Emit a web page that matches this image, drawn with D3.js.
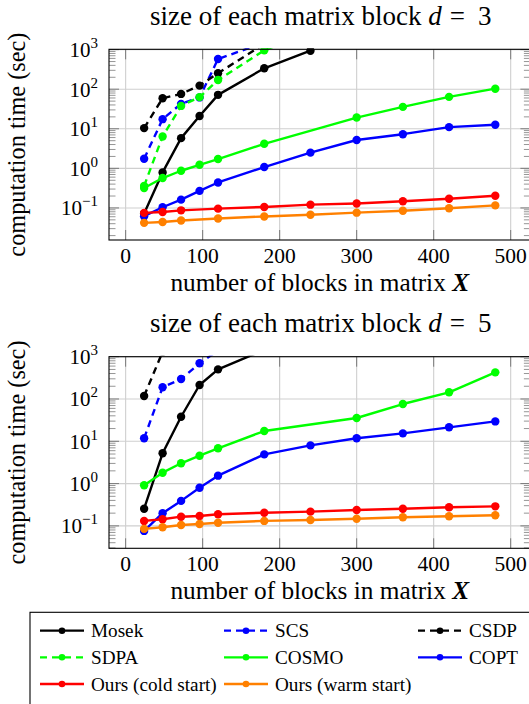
<!DOCTYPE html>
<html><head><meta charset="utf-8">
<script src="https://cdn.jsdelivr.net/npm/d3@7/dist/d3.min.js"></script>
<style>body{margin:0;background:#fff;}</style>
</head><body>
<svg id="c" width="529" height="704"></svg>
<script>
// ---------------- data ----------------
const seriesNames = ["Mosek","SCS","CSDP","SDPA","COSMO","COPT","Ours (cold start)","Ours (warm start)"];
const xTicks = [0,100,200,300,400,500];
const yTickExp = [-1,0,1,2,3];

// d = 3
const mosekX3 = [24,48,72,96,120,180,240];
const mosekY3 = [0.072,0.79,5.8,21,72,337,940];
const scsX3   = [24,48,72,96,120,180];
const scsY3   = [1.75,17.5,42.6,62,580,1500];
const csdpX3  = [24,48,72,96,120,180];
const csdpY3  = [10.4,59,76,123,253,1400];
const sdpaX3  = [24,48,72,96,120,180,240];
const sdpaY3  = [0.36,6.4,37.8,63,171,960,2800];
const cosmoX3 = [24,48,72,96,120,180,300,360,420,480];
const cosmoY3 = [0.32,0.57,0.87,1.23,1.72,4.17,19.2,35.7,64,103];
const coptX3  = [24,48,72,96,120,180,240,300,360,420,480];
const coptY3  = [0.062,0.104,0.162,0.27,0.44,1.08,2.5,5.2,7.3,11,12.6];
const coldX3  = [24,48,72,120,180,240,300,360,420,480];
const coldY3  = [0.075,0.079,0.087,0.096,0.106,0.121,0.13,0.147,0.171,0.204];
const warmX3  = [24,48,72,120,180,240,300,360,420,480];
const warmY3  = [0.042,0.044,0.048,0.054,0.061,0.067,0.076,0.085,0.098,0.116];

// d = 5
const mosekX5 = [24,48,72,96,120,180];
const mosekY5 = [0.255,5.2,38,214,502,1450];
const scsX5   = [24,48,72,96,120];
const scsY5   = [11.8,189,297,698,1400];
const csdpX5  = [24,48];
const csdpY5  = [118,1300];
const sdpaX5  = [];
const sdpaY5  = [];
const cosmoX5 = [24,48,72,96,120,180,300,360,420,480];
const cosmoY5 = [0.91,1.81,3.02,4.57,6.84,17.5,35.5,76,144,426];
const coptX5  = [24,48,72,96,120,180,240,300,360,420,480];
const coptY5  = [0.076,0.2,0.39,0.8,1.54,4.9,8.0,11.8,15.4,21.4,29.5];
const coldX5  = [24,48,72,96,120,180,240,300,360,420,480];
const coldY5  = [0.131,0.143,0.165,0.171,0.188,0.205,0.217,0.238,0.255,0.275,0.29];
const warmX5  = [24,48,72,96,120,180,240,300,360,420,480];
const warmY5  = [0.085,0.093,0.105,0.111,0.119,0.131,0.138,0.148,0.16,0.169,0.178];

// ---------------- styles ----------------
const colors = ["#000000","#0000ff","#000000","#00ff00","#00ff00","#0000ff","#ff0000","#ff8000"];
const dashed = [false,true,true,true,false,false,false,false];
const FONT = "'Liberation Serif', 'Times New Roman', serif";

const svg = d3.select("#c").style("font-family", FONT);

function zip(xs, ys){ return xs.map((x,i)=>({x:x, y:ys[i]})); }

const panels = [
  {title:"3", top:49.3, bottom:240, yLo:-1.81, yHi:3.008,
   data:[zip(mosekX3,mosekY3),zip(scsX3,scsY3),zip(csdpX3,csdpY3),zip(sdpaX3,sdpaY3),
         zip(cosmoX3,cosmoY3),zip(coptX3,coptY3),zip(coldX3,coldY3),zip(warmX3,warmY3)]},
  {title:"5", top:356.7, bottom:548.3, yLo:-1.53, yHi:3.0,
   data:[zip(mosekX5,mosekY5),zip(scsX5,scsY5),zip(csdpX5,csdpY5),zip(sdpaX5,sdpaY5),
         zip(cosmoX5,cosmoY5),zip(coptX5,coptY5),zip(coldX5,coldY5),zip(warmX5,warmY5)]}
];

const L = 109, R = 530.4;
const x = d3.scaleLinear().domain([-21.6,525.6]).range([L,R]);

panels.forEach((p,pi)=>{
  const g = svg.append("g").style("font-family", FONT);
  const y = d3.scaleLog().domain([Math.pow(10,p.yLo),Math.pow(10,p.yHi)]).range([p.bottom,p.top]);
  const cx = (L+R)/2;

  // grid
  xTicks.forEach(t=>{
    g.append("line").attr("x1",x(t)).attr("x2",x(t)).attr("y1",p.top).attr("y2",p.bottom)
      .attr("stroke","#cfcfcf").attr("stroke-width",1.1);
  });
  yTickExp.forEach(e=>{
    g.append("line").attr("x1",L).attr("x2",R).attr("y1",y(Math.pow(10,e))).attr("y2",y(Math.pow(10,e)))
      .attr("stroke","#cfcfcf").attr("stroke-width",1.1);
  });
  // minor ticks y
  for(let e=-3;e<=3;e++){
    for(let m=2;m<=9;m++){
      const v=m*Math.pow(10,e);
      if(v<Math.pow(10,p.yLo)||v>Math.pow(10,p.yHi)) continue;
      const yy=y(v);
      g.append("line").attr("x1",L).attr("x2",L+6.5).attr("y1",yy).attr("y2",yy).attr("stroke","#8a8a8a").attr("stroke-width",0.9);
      g.append("line").attr("x1",R).attr("x2",R-6.5).attr("y1",yy).attr("y2",yy).attr("stroke","#8a8a8a").attr("stroke-width",0.9);
    }
  }
  // major ticks
  yTickExp.forEach(e=>{
    const yy=y(Math.pow(10,e));
    g.append("line").attr("x1",L).attr("x2",L+10).attr("y1",yy).attr("y2",yy).attr("stroke","#7a7a7a").attr("stroke-width",1);
    g.append("line").attr("x1",R).attr("x2",R-10).attr("y1",yy).attr("y2",yy).attr("stroke","#7a7a7a").attr("stroke-width",1);
  });
  xTicks.forEach(t=>{
    g.append("line").attr("x1",x(t)).attr("x2",x(t)).attr("y1",p.bottom).attr("y2",p.bottom-10).attr("stroke","#7a7a7a").attr("stroke-width",1);
    g.append("line").attr("x1",x(t)).attr("x2",x(t)).attr("y1",p.top).attr("y2",p.top+10).attr("stroke","#7a7a7a").attr("stroke-width",1);
  });

  // clip
  const cid="clip"+pi;
  svg.append("defs").append("clipPath").attr("id",cid).append("rect")
    .attr("x",L).attr("y",p.top-1).attr("width",R-L).attr("height",p.bottom-p.top+1);
  const pg = g.append("g").attr("clip-path","url(#"+cid+")");
  const line = d3.line().x(d=>x(d.x)).y(d=>y(d.y));
  p.data.forEach((ser,si)=>{
    if(!ser.length) return;
    pg.append("path").attr("d",line(ser)).attr("fill","none").attr("stroke",colors[si])
      .attr("stroke-width",2.4).attr("stroke-dasharray",dashed[si]?"7,5":null).attr("stroke-linejoin","round");
    pg.selectAll(null).data(ser).enter().append("circle")
      .attr("cx",d=>x(d.x)).attr("cy",d=>y(d.y)).attr("r",4.2).attr("fill",colors[si]);
  });

  // spine
  g.append("rect").attr("x",L).attr("y",p.top).attr("width",R-L).attr("height",p.bottom-p.top)
    .attr("fill","none").attr("stroke","#000").attr("stroke-width",1.1);

  // tick labels
  xTicks.forEach(t=>{
    g.append("text").attr("x",x(t)).attr("y",p.bottom+23).attr("text-anchor","middle")
      .attr("font-size",21.5).text(t);
  });
  yTickExp.forEach(e=>{
    const tx=g.append("text").attr("x",98).attr("y",y(Math.pow(10,e))+7.5).attr("text-anchor","end").attr("font-size",21);
    tx.append("tspan").text("10");
    tx.append("tspan").attr("dy",-9).attr("font-size",15).text(e<0?"\u2212"+(-e):String(e));
  });

  // titles
  const tt=g.append("text").attr("x",cx+1).attr("y",p.top-24.8).attr("text-anchor","middle").attr("font-size",27);
  tt.append("tspan").text("size of each matrix block ");
  tt.append("tspan").attr("font-style","italic").text("d");
  tt.append("tspan").attr("dx",8).text("=");
  tt.append("tspan").attr("dx",13).text(p.title);

  const xl=g.append("text").attr("x",cx).attr("y",p.bottom+51).attr("text-anchor","middle").attr("font-size",25.3);
  xl.append("tspan").text("number of blocks in matrix ");
  xl.append("tspan").attr("font-style","italic").attr("font-weight","bold").text("X");

  g.append("text").attr("transform","translate(24.5,"+((p.top+p.bottom)/2)+") rotate(-90)")
    .attr("text-anchor","middle").attr("font-size",24.3).text("computation time (sec)");
});

// legend
const lg = svg.append("g").style("font-family", FONT);
lg.append("rect").attr("x",30).attr("y",612.3).attr("width",560).attr("height",140)
  .attr("fill","#fff").attr("stroke","#000").attr("stroke-width",1.1);
const colX=[40,224,418], rowY=[630.7,657.3,684];
seriesNames.forEach((n,i)=>{
  const cx0=colX[i%3], cy0=rowY[Math.floor(i/3)];
  lg.append("line").attr("x1",cx0).attr("x2",cx0+44).attr("y1",cy0).attr("y2",cy0)
    .attr("stroke",colors[i]).attr("stroke-width",2.3).attr("stroke-dasharray",dashed[i]?"7,5":null);
  lg.append("circle").attr("cx",cx0+22).attr("cy",cy0).attr("r",3.3).attr("fill",colors[i]);
  lg.append("text").attr("x",cx0+51).attr("y",cy0+6.5).attr("font-size",19.2).text(n);
});
</script>
</body></html>
